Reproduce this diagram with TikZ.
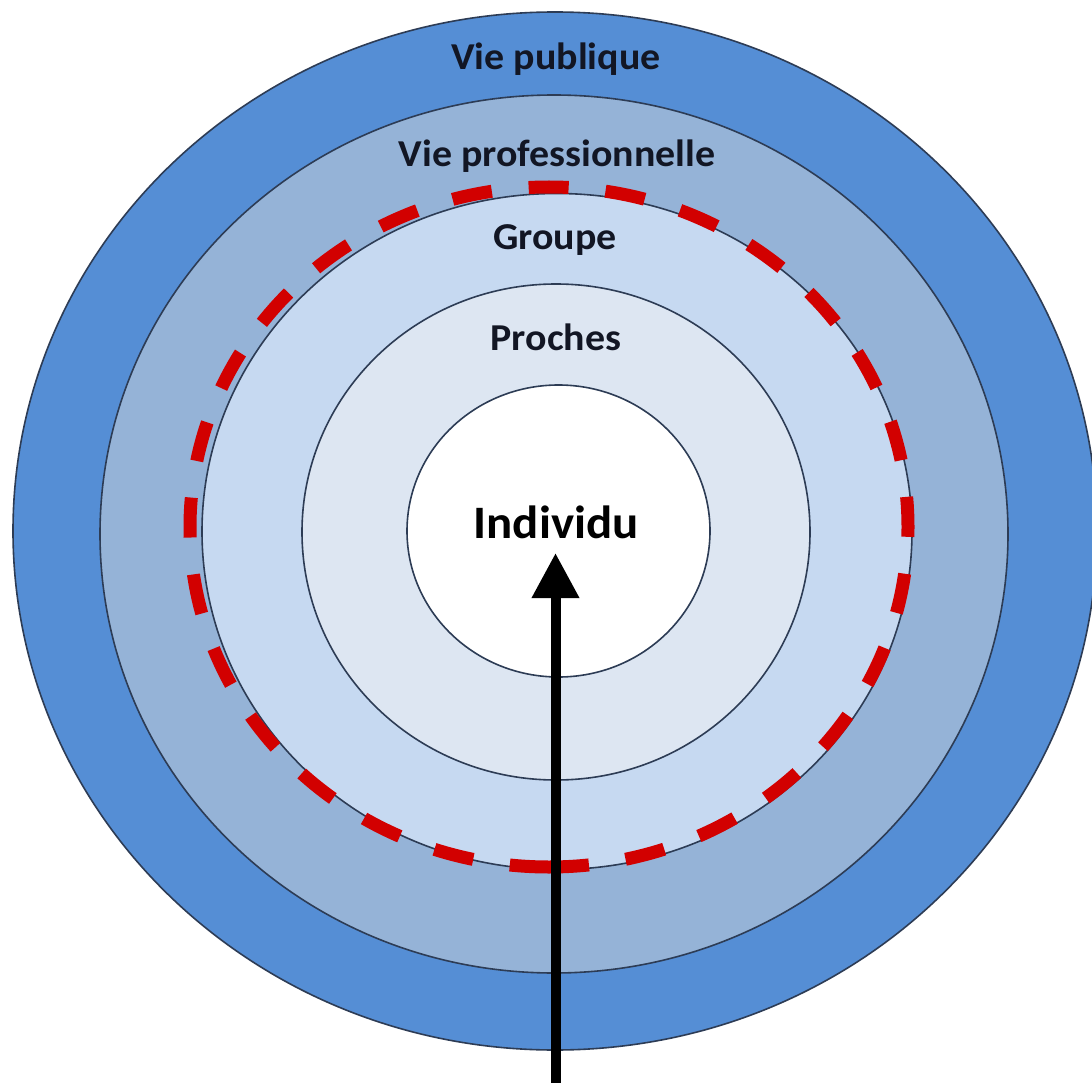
\documentclass[tikz,border=0pt]{standalone}
\usepackage{fontspec}
\setmainfont{Carlito}
\newfontfamily\labfont{Carlito}[FakeStretch=1.05]
\usetikzlibrary{arrows.meta}
\definecolor{cPub}{RGB}{85,142,213}
\definecolor{cPro}{RGB}{149,179,215}
\definecolor{cGrp}{RGB}{198,217,241}
\definecolor{cPrc}{RGB}{221,230,242}
\definecolor{cInd}{RGB}{255,255,255}
\definecolor{cEdge}{RGB}{45,60,85}
\definecolor{cRed}{RGB}{210,0,0}
\definecolor{cTxt}{RGB}{18,22,36}
\tikzset{
  ring/.style={draw=cEdge, line width=1.6pt},
  lbl/.style={anchor=base, inner sep=0pt, text=cTxt, font=\labfont\fontsize{38}{40}\selectfont\bfseries},
  biglbl/.style={anchor=base, inner sep=0pt, text=black, font=\labfont\fontsize{46.5}{48}\selectfont\bfseries},
  reddash/.style={draw=cRed, line width=13pt, dash pattern=on 40pt off 37.05pt},
  bigarrow/.style={draw=black, line width=10pt, -{Triangle[length=45pt,width=45pt]}}
}
\begin{document}
\begin{tikzpicture}[x=1pt,y=-1pt]
\useasboundingbox (0,0) rectangle (1092,1083);
\fill[white] (0,0) rectangle (1092,1083);
\path[ring, fill=cPub] (555,531) ellipse [x radius=542pt, y radius=519pt];
\path[ring, fill=cPro] (554,534) ellipse [x radius=454pt, y radius=439pt];
\path[ring, fill=cGrp] (557,531.5) ellipse [x radius=355pt, y radius=338pt];
\path[ring, fill=cPrc] (556,532) ellipse [x radius=254pt, y radius=248pt];
\path[ring, fill=cInd] (558.5,531) ellipse [x radius=151.5pt, y radius=146pt];
\coordinate (dc) at (549,527);
\path[reddash] (dc) ++(0,340) arc[start angle=-90, end angle=270, x radius=359pt, y radius=340pt];
\node[lbl] (pub) at (556,70) {Vie publique};
\node[lbl] (pro) at (557,167) {Vie professionnelle};
\node[lbl] (grp) at (555,250) {Groupe};
\node[lbl] (prc) at (556,350) {Proches};
\node[biglbl] (ind) at (556,538) {Individu};
\coordinate (tail) at (555.5,1090);
\coordinate (tip) at (555.5,553);
\draw[bigarrow] (tail) -- (tip);
\end{tikzpicture}
\end{document}
